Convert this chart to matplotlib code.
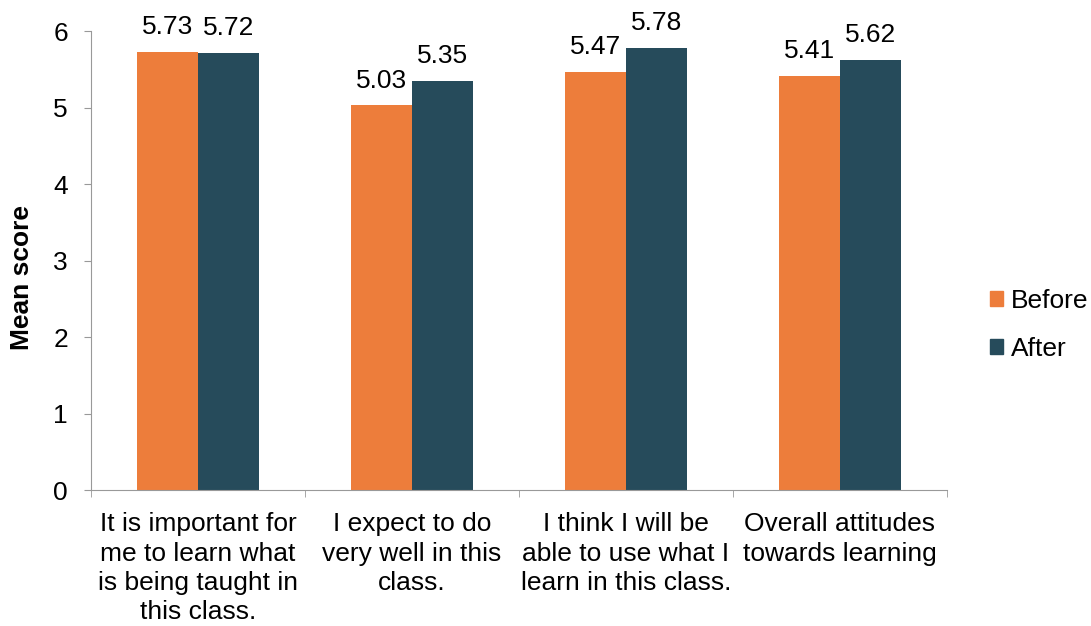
import numpy as np
import matplotlib.pyplot as plt
from matplotlib.patches import Patch

plt.rcParams['font.family'] = ['Liberation Sans', 'DejaVu Sans']

categories = [
    "It is important for\nme to learn what\nis being taught in\nthis class.",
    "I expect to do\nvery well in this\nclass.",
    "I think I will be\nable to use what I\nlearn in this class.",
    "Overall attitudes\ntowards learning",
]
before = [5.73, 5.03, 5.47, 5.41]
after = [5.72, 5.35, 5.78, 5.62]

c_before = "#ED7D3B"
c_after = "#264B5B"
fs = 19

fig = plt.figure(figsize=(10.91, 6.26), dpi=100)
ax = fig.add_axes([0.0834, 0.217, 0.7846, 0.733])

x = np.arange(len(categories))
w = 0.285
ax.bar(x - w / 2, before, w, color=c_before)
ax.bar(x + w / 2, after, w, color=c_after)

# value labels above bars
for xi, v in zip(x - w / 2, before):
    ax.text(xi, v + 0.235, f"{v:.2f}", ha='center', va='baseline', fontsize=fs)
for xi, v in zip(x + w / 2, after):
    ax.text(xi, v + 0.235, f"{v:.2f}", ha='center', va='baseline', fontsize=fs)

ax.set_xlim(-0.5, len(categories) - 0.5)
ax.set_ylim(0, 6)
ax.set_yticks(range(0, 7))
ax.tick_params(axis='y', labelsize=fs, length=5, color='#999999', pad=11.5)
ax.set_xticks(x)
ax.set_xticklabels(categories, fontsize=fs, linespacing=1.28)
ax.tick_params(axis='x', length=0, pad=16)
ax.set_xticks(np.arange(-0.5, len(categories)), minor=True)
ax.tick_params(axis='x', which='minor', length=5, color='#999999')

for s in ['top', 'right']:
    ax.spines[s].set_visible(False)
ax.spines['left'].set_color('#999999')
ax.spines['bottom'].set_color('#999999')

ax.set_ylabel("Mean score", fontsize=fs, fontweight='bold')
ax.yaxis.set_label_coords(-0.066, 0.463)

handles = [Patch(color=c_before, label="Before"), Patch(color=c_after, label="After")]
fig.legend(handles=handles, loc='center left', bbox_to_anchor=(0.8955, 0.481),
           frameon=False, fontsize=fs, handlelength=0.5, handleheight=0.5,
           handletextpad=0.27, labelspacing=0.9, borderpad=0)

fig.savefig("out.png", dpi=100)
